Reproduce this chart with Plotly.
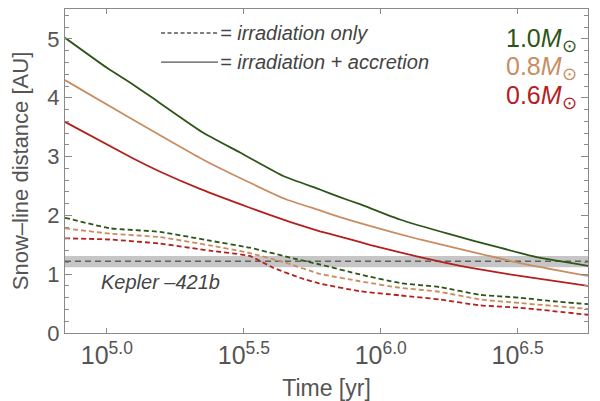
import numpy as np
import plotly.graph_objects as go

# ---- data (log10 of time in yr, snow-line distance in AU) ----
green_solid_logt = [4.847, 5.0, 5.091, 5.157, 5.347, 5.486, 5.644, 5.778, 5.851, 5.924, 6.07, 6.252, 6.435, 6.58, 6.757]
green_solid_r    = [5.02, 4.51, 4.24, 4.03, 3.42, 3.07, 2.67, 2.44, 2.31, 2.19, 1.93, 1.68, 1.45, 1.28, 1.14]

tan_solid_logt = [4.847, 5.091, 5.347, 5.498, 5.656, 5.778, 5.851, 5.96, 6.143, 6.325, 6.508, 6.757]
tan_solid_r    = [4.30, 3.64, 2.96, 2.61, 2.27, 2.085, 1.97, 1.82, 1.59, 1.39, 1.19, 0.97]

red_solid_logt = [4.847, 5.091, 5.189, 5.34, 5.522, 5.668, 5.778, 5.851, 5.96, 6.143, 6.325, 6.508, 6.757]
red_solid_r    = [3.59, 2.98, 2.755, 2.45, 2.13, 1.89, 1.73, 1.64, 1.50, 1.29, 1.11, 0.97, 0.80]

green_dash_logt = [4.847, 5.011, 5.194, 5.376, 5.522, 5.68, 5.778, 5.924, 6.07, 6.216, 6.362, 6.508, 6.63, 6.757]
green_dash_r    = [1.96, 1.78, 1.72, 1.57, 1.45, 1.27, 1.165, 0.995, 0.85, 0.78, 0.65, 0.60, 0.54, 0.49]

tan_dash_logt = [4.847, 5.011, 5.194, 5.376, 5.522, 5.65, 5.778, 5.924, 6.07, 6.216, 6.362, 6.508, 6.757]
tan_dash_r    = [1.78, 1.69, 1.63, 1.49, 1.36, 1.20, 1.005, 0.88, 0.77, 0.70, 0.57, 0.51, 0.41]

red_dash_logt = [4.847, 5.011, 5.194, 5.376, 5.522, 5.607, 5.705, 5.778, 5.924, 6.07, 6.216, 6.362, 6.508, 6.757]
red_dash_r    = [1.61, 1.59, 1.52, 1.40, 1.31, 1.11, 0.94, 0.84, 0.71, 0.64, 0.57, 0.47, 0.43, 0.31]

kepler_a = 1.22
kepler_band = [1.12, 1.31]

x_tick_logs = [5.0, 5.5, 6.0, 6.5]
x_tick_text = ["10<sup>5.0</sup>", "10<sup>5.5</sup>", "10<sup>6.0</sup>", "10<sup>6.5</sup>"]
y_tick_vals = [0, 1, 2, 3, 4, 5]

mass_labels = ["1.0", "0.8", "0.6"]

GREEN = "#2d5518"
TAN = "#c98d62"
RED = "#b4201e"
GRAY_TXT = "#555555"
FONT = "Liberation Sans"

xr = [4.847, 6.757]

fig = go.Figure()

# Kepler-421b band + line
fig.add_shape(type="rect", xref="paper", x0=0, x1=1, yref="y",
              y0=kepler_band[0], y1=kepler_band[1],
              fillcolor="#c6c6c6", line=dict(width=0), layer="below")
fig.add_trace(go.Scatter(x=[10**xr[0], 10**xr[1]], y=[kepler_a, kepler_a], mode="lines",
                         line=dict(color="#606060", width=1.6, dash="6px,4px"),
                         hoverinfo="skip", showlegend=False))

def add(logt, r, color, dash):
    fig.add_trace(go.Scatter(x=[10**v for v in logt], y=r, mode="lines",
                             line=dict(color=color, width=1.8, dash=dash, shape="spline", smoothing=0.4),
                             showlegend=False))

add(green_dash_logt, green_dash_r, GREEN, "5px,3px")
add(tan_dash_logt, tan_dash_r, TAN, "5px,3px")
add(red_dash_logt, red_dash_r, RED, "5px,3px")
add(green_solid_logt, green_solid_r, GREEN, "solid")
add(tan_solid_logt, tan_solid_r, TAN, "solid")
add(red_solid_logt, red_solid_r, RED, "solid")

# legend-like samples
fig.add_shape(type="line", xref="paper", yref="paper", x0=0.1836, x1=0.2925, y0=0.926, y1=0.926,
              line=dict(color="#555555", width=1.3, dash="4px,2.5px"))
fig.add_shape(type="line", xref="paper", yref="paper", x0=0.1836, x1=0.2925, y0=0.836, y1=0.836,
              line=dict(color="#555555", width=1.3))
fig.add_annotation(xref="paper", yref="paper", x=0.2925, y=0.926, xanchor="left", yanchor="middle",
                   text="<i>= irradiation only</i>", showarrow=False,
                   font=dict(family=FONT, size=20, color="#444444"))
fig.add_annotation(xref="paper", yref="paper", x=0.2925, y=0.836, xanchor="left", yanchor="middle",
                   text="<i>= irradiation + accretion</i>", showarrow=False,
                   font=dict(family=FONT, size=20, color="#444444"))

# mass labels
for i, (lab, col) in enumerate(zip(mass_labels, [GREEN, TAN, RED])):
    fig.add_annotation(xref="paper", yref="paper", x=0.982, y=0.905 - i * 0.0886,
                       xanchor="right", yanchor="middle",
                       text=f"{lab}<i>M</i><sub>⊙</sub>", showarrow=False,
                       font=dict(family=FONT, size=25, color=col))

fig.add_annotation(x=5.197, y=0.86, xref="x", yref="y", text="<i>Kepler –421b</i>",
                   showarrow=False, font=dict(family=FONT, size=20, color="#444444"))

axis_common = dict(showline=True, linecolor="#8a8a8a", linewidth=1.2, mirror="ticks",
                   ticks="inside", tickcolor="#8a8a8a", showgrid=False, zeroline=False,
                   automargin=False)

fig.update_xaxes(type="log", range=xr, tickvals=[10**v for v in x_tick_logs], ticktext=x_tick_text,
                 ticklen=5, tickfont=dict(family=FONT, size=25, color=GRAY_TXT),
                 title=dict(text="Time [yr]", font=dict(family=FONT, size=23, color=GRAY_TXT)),
                 **axis_common)
fig.update_yaxes(range=[0, 5.51], tickvals=y_tick_vals, ticklen=7,
                 tickfont=dict(family=FONT, size=22, color=GRAY_TXT),
                 minor=dict(dtick=0.2, ticklen=4, ticks="inside", tickcolor="#8a8a8a"),
                 title=dict(text="Snow–line distance [AU]", font=dict(family=FONT, size=22, color=GRAY_TXT)),
                 **axis_common)

# page body adds an 8px offset; figure sized so the visible window matches the reference
fig.update_layout(width=592, height=393, margin=dict(l=57, r=12, t=1, b=68),
                  plot_bgcolor="white", paper_bgcolor="white", font=dict(family=FONT))

fig.write_html("out.html")
